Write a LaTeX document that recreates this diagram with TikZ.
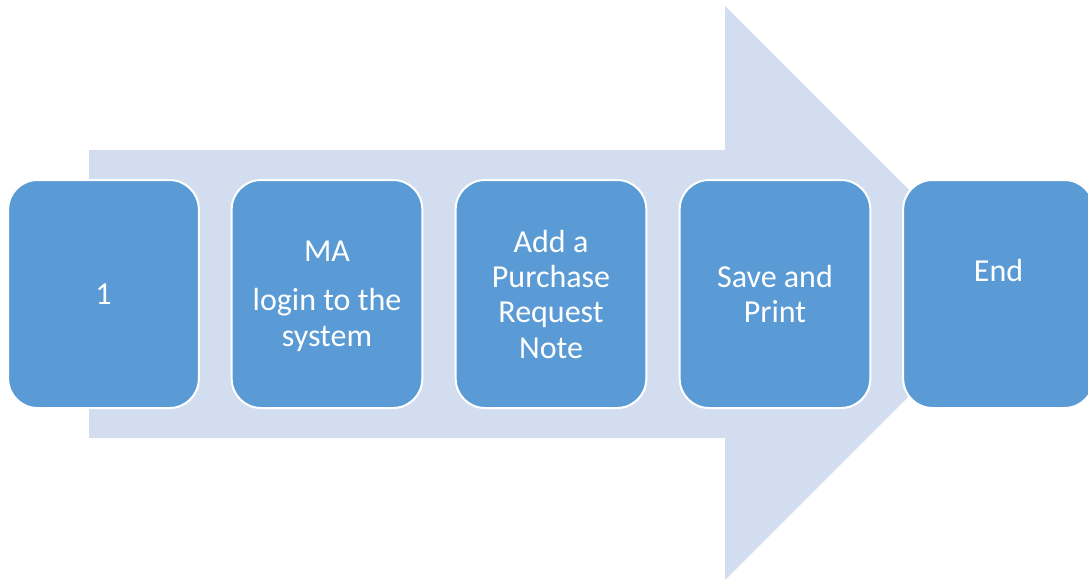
\documentclass[tikz,border=0pt]{standalone}
\usepackage{fontspec}
\setmainfont{Carlito}
\definecolor{stepblue}{HTML}{5B9BD5}
\definecolor{arrowbg}{HTML}{D2DEEF}
\begin{document}
\begin{tikzpicture}[x=0.75pt,y=-0.75pt,
  stepbox/.style={draw=white,line width=1.5pt,fill=stepblue,rounded corners=22pt,
    minimum width=143pt,minimum height=171pt,inner sep=0pt},
  txt/.style={text=white,align=center,inner sep=0pt,
    font=\fontsize{24}{26.5}\selectfont}]
\useasboundingbox (0,0) rectangle (1088,583);
\clip (0,0) rectangle (1088,583);
% background process arrow
\fill[arrowbg] (89,150) -- (725,150) -- (725,6) -- (1012,293) -- (725,580) -- (725,438) -- (89,438) -- cycle;
% process steps
\node[stepbox] (b1) at (103.5,294) {};
\node[stepbox] (b2) at (327,294) {};
\node[stepbox] (b3) at (551,294) {};
\node[stepbox] (b4) at (775,294) {};
\node[stepbox] (b5) at (998.5,294) {};
% step labels
\node[txt] (t1) at (b1) {1};
\node[txt] (t2) at (327,296) {MA\\[10.5pt]login to the\\system};
\node[txt] (t3) at (b3) {Add a\\Purchase\\Request\\Note};
\node[txt] (t4) at (b4) {Save and\\Print};
\node[txt] (t5) at (998.5,270) {End};
\end{tikzpicture}
\end{document}
